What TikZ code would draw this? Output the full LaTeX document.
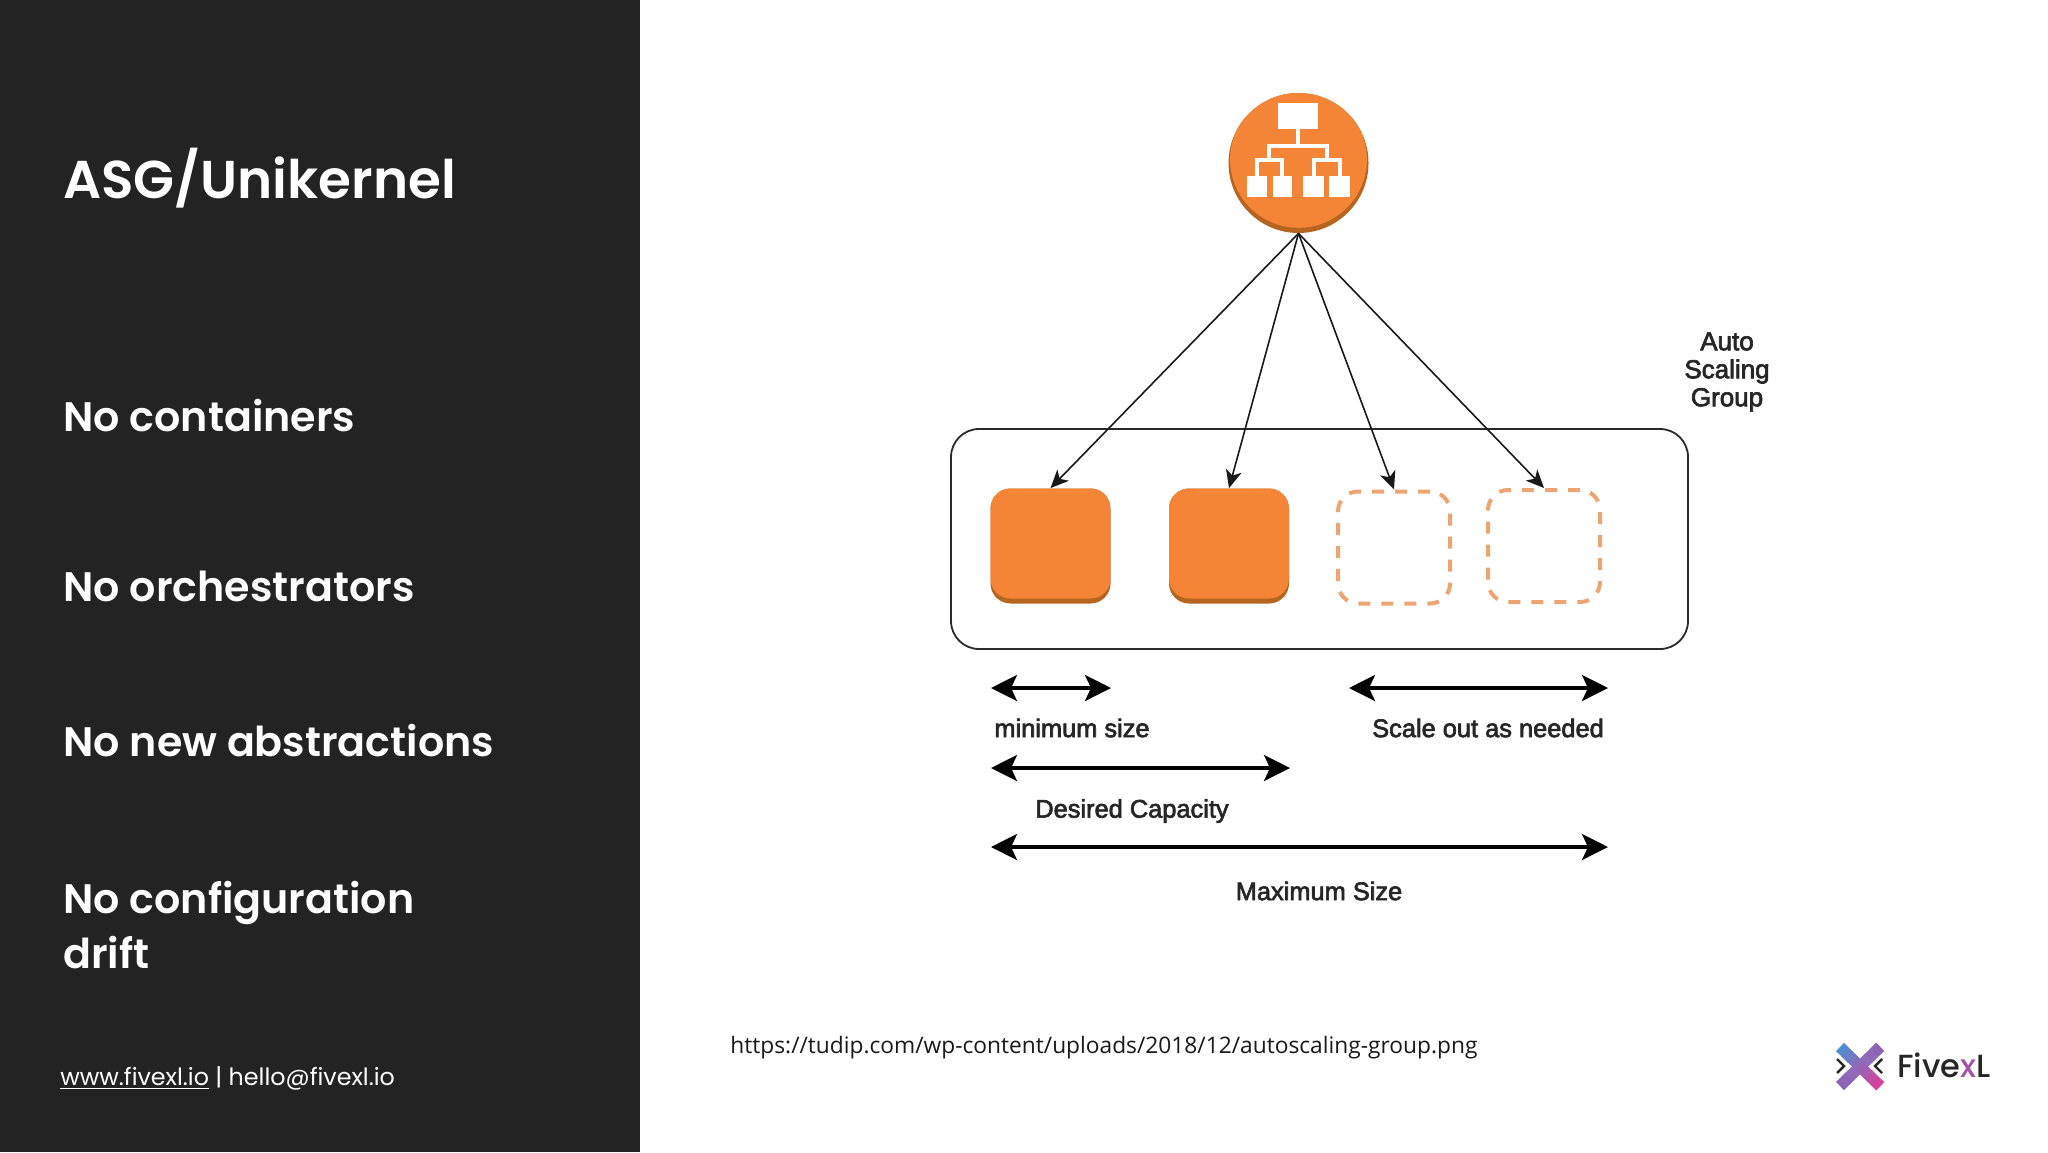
\documentclass[tikz,border=0pt]{standalone}
\usepackage{fontspec}
\usetikzlibrary{arrows.meta,calc}
\setmainfont{Liberation Sans}
\newfontfamily\popfont{Poppins}[BoldFont=Poppins SemiBold]
\newfontfamily\popmed{Poppins Medium}
\newfontfamily\opfont{Open Sans}
\newfontfamily\diafont{Liberation Sans}[FakeBold=2.6]
\definecolor{panel}{HTML}{232323}
\definecolor{awsorange}{HTML}{F58536}
\definecolor{awsdark}{HTML}{B5651F}
\definecolor{dashorange}{HTML}{EDA473}
\definecolor{frameblack}{HTML}{2A2A2A}
\definecolor{logoblue}{HTML}{4C8FD3}
\definecolor{logopink}{HTML}{D93E9B}
\definecolor{logopurple}{HTML}{8C62B4}
\definecolor{logolilac}{HTML}{A585CC}
\definecolor{logox}{HTML}{A455A8}
\tikzset{
  sidehead/.style={anchor=base west,inner sep=0pt,text=white,font=\popfont\bfseries\fontsize{20.6}{27.5}\selectfont},
  slidetitle/.style={anchor=base west,inner sep=0pt,text=white,font=\popfont\bfseries\fontsize{26.6}{30}\selectfont},
  footer/.style={anchor=base west,inner sep=0pt,text=white,font=\popfont\fontsize{11.9}{14}\selectfont},
  instance/.style={rectangle,rounded corners=10pt,minimum width=60pt,minimum height=57.5pt,inner sep=0pt,fill=awsdark,
    path picture={\fill[awsorange,rounded corners=10pt] ([yshift=2.5pt]path picture bounding box.south west) rectangle (path picture bounding box.north east);}},
  ghost/.style={rectangle,rounded corners=10pt,minimum width=56pt,minimum height=56pt,inner sep=0pt,draw=dashorange,line width=2pt,dash pattern=on 6pt off 5.5pt},
  frame/.style={rectangle,rounded corners=14pt,draw=frameblack,line width=0.9pt,minimum width=368.5pt,minimum height=110pt,inner sep=0pt},
  feed/.style={draw=black!90,line width=0.8pt,-{Stealth[length=9pt,width=8pt,inset=2.5pt]}},
  span/.style={draw=black,line width=1.7pt,{Stealth[length=13pt,width=13pt,inset=3pt]}-{Stealth[length=13pt,width=13pt,inset=3pt]}},
  lbl/.style={inner sep=0pt,text=black!85,font=\diafont\fontsize{12.7}{14}\selectfont},
  iconbox/.style={fill=white,draw=none},
  iconline/.style={draw=white,line width=2pt}
}
\begin{document}
\begin{tikzpicture}[x=0.5pt,y=-0.5pt]
\useasboundingbox (0,0) rectangle (2048,1152);
\fill[white] (0,0) rectangle (2048,1152);
\fill[panel] (0,0) rectangle (640,1152);
% left panel
\node[slidetitle] (title) at (63,198) {ASG/Unikernel};
\node[sidehead] (h1) at (63,431) {No containers};
\node[sidehead] (h2) at (63,601) {No orchestrators};
\node[sidehead] (h3) at (63,756) {No new abstractions};
\node[sidehead] (h4) at (63,913) {No configuration};
\node[sidehead] (h5) at (63,968) {drift};
\node[footer] (foot) at (60,1085) {\underline{www.fivexl.io} | hello@fivexl.io};
% auto scaling icon
\node[circle,minimum size=70pt,inner sep=0pt,fill=awsdark,
  path picture={\fill[awsorange] ([yshift=1.8pt]path picture bounding box.center) circle (34.2pt);}] (asg) at (1298.5,163) {};
\draw[iconline] (1298,129) -- (1298,146) (1257,176) -- (1257,160) -- (1282,160) -- (1282,176)
  (1269,160) -- (1269,146) -- (1327,146) -- (1327,160) (1314,176) -- (1314,160) -- (1340,160) -- (1340,176);
\fill[iconbox] (1278,103) rectangle (1318,129);
\fill[iconbox] (1247,176) rectangle (1267,197);
\fill[iconbox] (1273,176) rectangle (1292,197);
\fill[iconbox] (1303,176) rectangle (1324,197);
\fill[iconbox] (1329,176) rectangle (1350,197);
% group
\node[frame] (group) at (1319.5,539) {};
\node[instance] (s1) at (1050.5,546) {};
\node[instance] (s2) at (1229,546) {};
\node[ghost] (s3) at (1394,547.5) {};
\node[ghost] (s4) at (1544,546) {};
\coordinate (apex) at (asg.south);
\draw[feed] (apex) -- (s1.north);
\draw[feed] (apex) -- (s2.north);
\draw[feed] (apex) -- (s3.north);
\draw[feed] (apex) -- (s4.north);
% group label
\node[lbl,align=center,font=\diafont\fontsize{13}{14}\selectfont] (asglabel) at (1727,372) {Auto\\Scaling\\Group};
% spans
\coordinate (a1) at (991,688); \coordinate (b1) at (1111,688);
\coordinate (a2) at (1349,688); \coordinate (b2) at (1608,688);
\coordinate (a3) at (991,768); \coordinate (b3) at (1290,768);
\coordinate (a4) at (991,847); \coordinate (b4) at (1608,847);
\draw[span] (a1) -- (b1);
\draw[span] (a2) -- (b2);
\draw[span] (a3) -- (b3);
\draw[span] (a4) -- (b4);
\node[lbl] (lmin) at (1072,728) {minimum size};
\node[lbl] (lscale) at (1488,728) {Scale out as needed};
\node[lbl] (ldes) at (1132,811) {Desired Capacity};
\node[lbl] (lmax) at (1319,891) {Maximum Size};
% source
\node[anchor=base west,inner sep=0pt,text=black!90,font=\opfont\fontsize{11.37}{14}\selectfont] (src) at (730,1053) {https://tudip.com/wp-content/uploads/2018/12/autoscaling-group.png};
% logo
\coordinate (bp) at (1840,1086); \coordinate (bq) at (1880,1047);
\coordinate (ap) at (1840,1047); \coordinate (aq) at (1880,1086);
\foreach \t in {0,...,23}{
  \pgfmathsetmacro{\mix}{\t<12 ? 100-(\t*3) : 64+(\t-12)*3}
  \pgfmathsetmacro{\ta}{\t/24}\pgfmathsetmacro{\tb}{(\t+1.15)/24}
  \colorlet{seg}{logopurple!\mix!logolilac}
  \draw[seg,line width=5.7pt] ($(bp)!\ta!(bq)$) -- ($(bp)!\tb!(bq)$);
}
\foreach \t in {0,...,23}{
  \pgfmathsetmacro{\mix}{100-\t*100/23}
  \pgfmathsetmacro{\ta}{\t/24}\pgfmathsetmacro{\tb}{(\t+1.15)/24}
  \colorlet{seg}{logoblue!\mix!logopink}
  \draw[seg,line width=5.7pt] ($(ap)!\ta!(aq)$) -- ($(ap)!\tb!(aq)$);
}
\draw[black!85,line width=1.2pt] (1837,1059) -- (1844,1066) -- (1837,1073) (1882,1059) -- (1875,1066) -- (1882,1073);
\node[anchor=base west,inner sep=0pt,text=black!85,font=\popmed\fontsize{16}{18}\selectfont] (brand) at (1897,1077) {Five\textcolor{logox}{x}L};
\end{tikzpicture}
\end{document}
